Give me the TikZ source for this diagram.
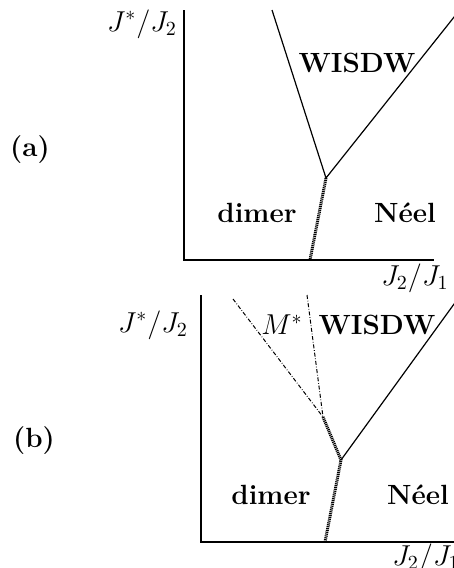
\documentclass[tikz,border=0pt]{standalone}
\begin{document}
\begin{tikzpicture}[x=0.5pt,y=-0.5pt,
  every node/.style={inner sep=0pt,font=\fontsize{14.6}{17}\selectfont},
  axis/.style={line width=0.55pt},
  boundary/.style={line width=0.6pt},
  hatched/.style={line width=1.5pt,dash pattern=on 0.55pt off 0.4pt},
  dashdotline/.style={line width=0.5pt,dash pattern=on 2pt off 0.9pt on 0.35pt off 0.9pt},
  phase/.style={font=\fontsize{13.9}{17}\selectfont\bfseries}]
\useasboundingbox (0,0) rectangle (454,568);
% ---------- panel (a)
\coordinate (aO) at (184,260);
\coordinate (aYt) at (184,10);
\coordinate (aXr) at (434,260);
\coordinate (aT) at (326,178);
\coordinate (aL) at (272,10);
\coordinate (aR) at (470,-3);
\coordinate (aB) at (310,260);
\draw[axis] (aYt) -- (aO) -- (aXr);
\draw[boundary] (aL) -- (aT) -- (aR);
\draw[hatched] (aT) -- (aB);
\node[phase] (alabel) at (30,150) {(a)};
\node (ay) at (142,24) {$J^*/J_2$};
\node (ax) at (415,278) {$J_2/J_1$};
\node[phase] (aw) at (357,63) {WISDW};
\node[phase] (ad) at (257,213) {dimer};
\node[phase] (an) at (405,213) {N\'eel};
% ---------- panel (b)
\coordinate (bO) at (201,542);
\coordinate (bYt) at (201,295);
\coordinate (bXr) at (456,542);
\coordinate (bM) at (323,417);
\coordinate (bT) at (341,460);
\coordinate (bB) at (325,542);
\coordinate (bR) at (470,282);
\coordinate (bL1) at (233,299);
\coordinate (bL2) at (307,295);
\draw[axis] (bYt) -- (bO) -- (bXr);
\draw[boundary] (bT) -- (bR);
\draw[hatched] (bM) -- (bT) -- (bB);
\draw[dashdotline] (bL1) -- (bM);
\draw[dashdotline] (bL2) -- (bM);
\node[phase] (blabel) at (34,441) {(b)};
\node (by) at (153,325) {$J^*/J_2$};
\node[anchor=west] (bx) at (392,558) {$J_2/J_1$};
\node (bm) at (282,325) {$M^*$};
\node[phase] (bw) at (377,325) {WISDW};
\node[phase] (bd) at (271,495) {dimer};
\node[phase] (bn) at (418,495) {N\'eel};
\end{tikzpicture}
\end{document}
